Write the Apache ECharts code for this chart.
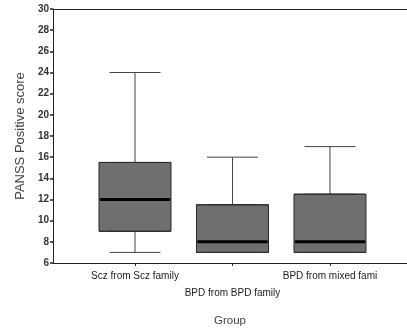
<!DOCTYPE html>
<html>
<head>
<meta charset="utf-8">
<script src="https://cdn.jsdelivr.net/npm/echarts@6/dist/echarts.min.js"></script>
<style>
  html, body { margin: 0; padding: 0; background: #ffffff; }
  #chart { width: 407px; height: 332px; }
</style>
</head>
<body>
<div id="chart"></div>
<script>
// Group names (the third is truncated as in the original output)
const groups = ['Scz from Scz family', 'BPD from BPD family', 'BPD from mixed fami'];
// Five-number summaries per group
const mins    = [7, 7, 7];
const q1s     = [9, 7, 7];
const medians = [12, 8, 8];
const q3s     = [15.5, 11.5, 12.5];
const maxs    = [24, 16, 17];
// Position of each group on the x scale
const positions = [1, 2, 3];
// Y tick range
const yMin = 6, yMax = 30, yStep = 2;

const whiskerData = positions.map((p, i) => [p, mins[i], q1s[i], medians[i], q3s[i], maxs[i]]);
const boxData     = positions.map((p, i) => [p, q1s[i], q1s[i], medians[i], q3s[i], q3s[i]]);
const medianData  = positions.map((p, i) => [p, medians[i], medians[i], medians[i], medians[i], medians[i]]);

const font = 'Liberation Sans, Arial, sans-serif';
const xRange = { min: 0.159, max: 3.79 };

// Hidden x axes sharing the same scale, so stacked boxplot layers do not get offset
function hiddenX() {
  return {
    type: 'value', min: xRange.min, max: xRange.max, show: false,
    axisLine: { show: false }, axisTick: { show: false }, axisLabel: { show: false }, splitLine: { show: false }
  };
}

const chart = echarts.init(document.getElementById('chart'), null, { renderer: 'canvas' });

chart.setOption({
  animation: false,
  backgroundColor: '#ffffff',
  grid: { left: 53, right: 0, top: 9, bottom: 69, containLabel: false },
  xAxis: [{
    type: 'value',
    min: xRange.min,
    max: xRange.max,
    name: 'Group',
    nameLocation: 'middle',
    nameGap: 52,
    nameTextStyle: { fontFamily: font, fontSize: 11.5, color: '#444' },
    axisLine: { show: true, lineStyle: { color: '#222', width: 1 } },
    axisTick: { show: true, length: 3, customValues: positions, lineStyle: { color: '#222' } },
    axisLabel: {
      customValues: positions,
      fontFamily: font, fontSize: 10, color: '#222', margin: 5, lineHeight: 17,
      formatter: v => {
        const i = positions.indexOf(v);
        if (i < 0) return '';
        return i === 1 ? '\n' + groups[i] : groups[i];
      }
    },
    splitLine: { show: false }
  }, {
    type: 'value',
    position: 'top',
    min: xRange.min,
    max: xRange.max,
    axisLine: { show: true, lineStyle: { color: '#222', width: 1 } },
    axisTick: { show: false },
    axisLabel: { show: false },
    splitLine: { show: false }
  }, hiddenX(), hiddenX()],
  yAxis: {
    type: 'value',
    min: yMin,
    max: yMax,
    interval: yStep,
    name: 'PANSS Positive score',
    nameLocation: 'middle',
    nameGap: 26,
    nameTextStyle: { fontFamily: font, fontSize: 13, color: '#444' },
    axisLine: { show: true, lineStyle: { color: '#222', width: 1 } },
    axisTick: { show: true, length: 3, inside: false, lineStyle: { color: '#222', width: 1.5 } },
    axisLabel: { fontFamily: font, fontSize: 10, fontWeight: 'bold', color: '#333', margin: 4 },
    splitLine: { show: false }
  },
  series: [{
    // whiskers and caps
    type: 'boxplot',
    xAxisIndex: 0,
    boxWidth: [51, 51],
    data: whiskerData,
    itemStyle: { color: '#6f6f6f', borderColor: '#444', borderWidth: 1 }
  }, {
    // interquartile boxes
    type: 'boxplot',
    xAxisIndex: 2,
    boxWidth: [72, 72],
    data: boxData,
    itemStyle: { color: '#6f6f6f', borderColor: '#2a2a2a', borderWidth: 1 }
  }, {
    // thick median bars
    type: 'boxplot',
    xAxisIndex: 3,
    boxWidth: [70, 70],
    data: medianData,
    itemStyle: { color: '#000', borderColor: '#000', borderWidth: 3 }
  }]
});
</script>
</body>
</html>
